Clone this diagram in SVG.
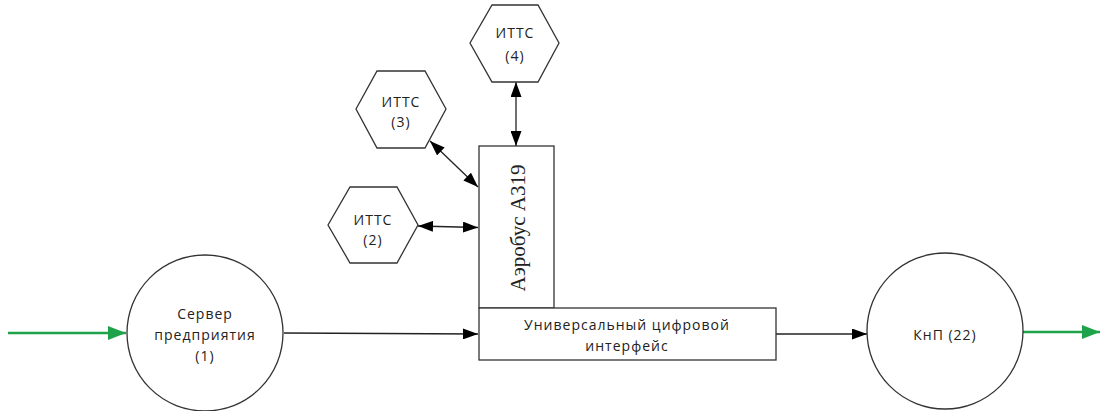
<svg xmlns="http://www.w3.org/2000/svg" width="1101" height="411" viewBox="0 0 1101 411">
  <defs>
    <marker id="ah" viewBox="0 0 15 11" refX="15" refY="5.5" markerWidth="15" markerHeight="11" markerUnits="userSpaceOnUse" orient="auto-start-reverse">
      <path d="M0,0 L15,5.5 L0,11 Z" fill="#000"/>
    </marker>
    <marker id="ahg" viewBox="0 0 18 14" refX="18" refY="7" markerWidth="18" markerHeight="14" markerUnits="userSpaceOnUse" orient="auto">
      <path d="M0,0 L18,7 L0,14 Z" fill="#1fa34a"/>
    </marker>
  </defs>
  <style>
    .shape { fill: #fff; stroke: #333; stroke-width: 1.3; }
    .lbl { font-family: "Open Sans", "DejaVu Sans", sans-serif; font-size: 14px; letter-spacing: 1px; fill: #222; text-anchor: middle; }
    .serif { font-family: "Liberation Serif", serif; font-size: 21px; fill: #222; text-anchor: middle; }
    .conn { stroke: #222; stroke-width: 1.3; fill: none; }
    .green { stroke: #1fa34a; stroke-width: 2.5; fill: none; }
  </style>
  <rect width="1101" height="411" fill="#fff"/>

  <g id="connectors">
    <line class="green" x1="8" y1="333" x2="126" y2="333" marker-end="url(#ahg)"/>
    <line class="conn" x1="284" y1="333" x2="478" y2="334" marker-end="url(#ah)"/>
    <line class="conn" x1="776" y1="334" x2="867" y2="334" marker-end="url(#ah)"/>
    <line class="green" x1="1023" y1="332" x2="1100" y2="332" marker-end="url(#ahg)"/>
    <line class="conn" x1="418" y1="226" x2="478" y2="227.5" marker-start="url(#ah)" marker-end="url(#ah)"/>
    <line class="conn" x1="430" y1="141" x2="478" y2="187" marker-start="url(#ah)" marker-end="url(#ah)"/>
    <line class="conn" x1="516" y1="82" x2="516" y2="146" marker-start="url(#ah)" marker-end="url(#ah)"/>
  </g>

  <g id="server">
    <circle class="shape" cx="205" cy="333" r="78"/>
    <text class="lbl" x="205" y="319">Сервер</text>
    <text class="lbl" x="205" y="340">предприятия</text>
    <text class="lbl" x="205" y="361">(1)</text>
  </g>

  <g id="knp">
    <circle class="shape" cx="945" cy="331" r="78"/>
    <text class="lbl" x="945" y="340">КнП (22)</text>
  </g>

  <g id="aerobus">
    <rect class="shape" x="479" y="146" width="75" height="162"/>
    <text class="serif" transform="translate(525,228) rotate(-90)">Аэробус А319</text>
  </g>

  <g id="uci">
    <rect class="shape" x="479" y="308" width="297" height="52"/>
    <text class="lbl" x="627" y="330">Универсальный цифровой</text>
    <text class="lbl" x="627" y="351">интерфейс</text>
  </g>

  <g id="itts2">
    <polygon class="shape" points="328,225 350,187 397,187 418,225 397,263 350,263"/>
    <text class="lbl" x="373" y="225">ИТТС</text>
    <text class="lbl" x="373" y="245">(2)</text>
  </g>

  <g id="itts3">
    <polygon class="shape" points="356,109 377,71 425,71 446,109 425,148 377,148"/>
    <text class="lbl" x="401" y="107">ИТТС</text>
    <text class="lbl" x="401" y="127">(3)</text>
  </g>

  <g id="itts4">
    <polygon class="shape" points="470,43 492,5 538,5 559,43 538,82 492,82"/>
    <text class="lbl" x="515" y="38">ИТТС</text>
    <text class="lbl" x="515" y="61">(4)</text>
  </g>
</svg>
